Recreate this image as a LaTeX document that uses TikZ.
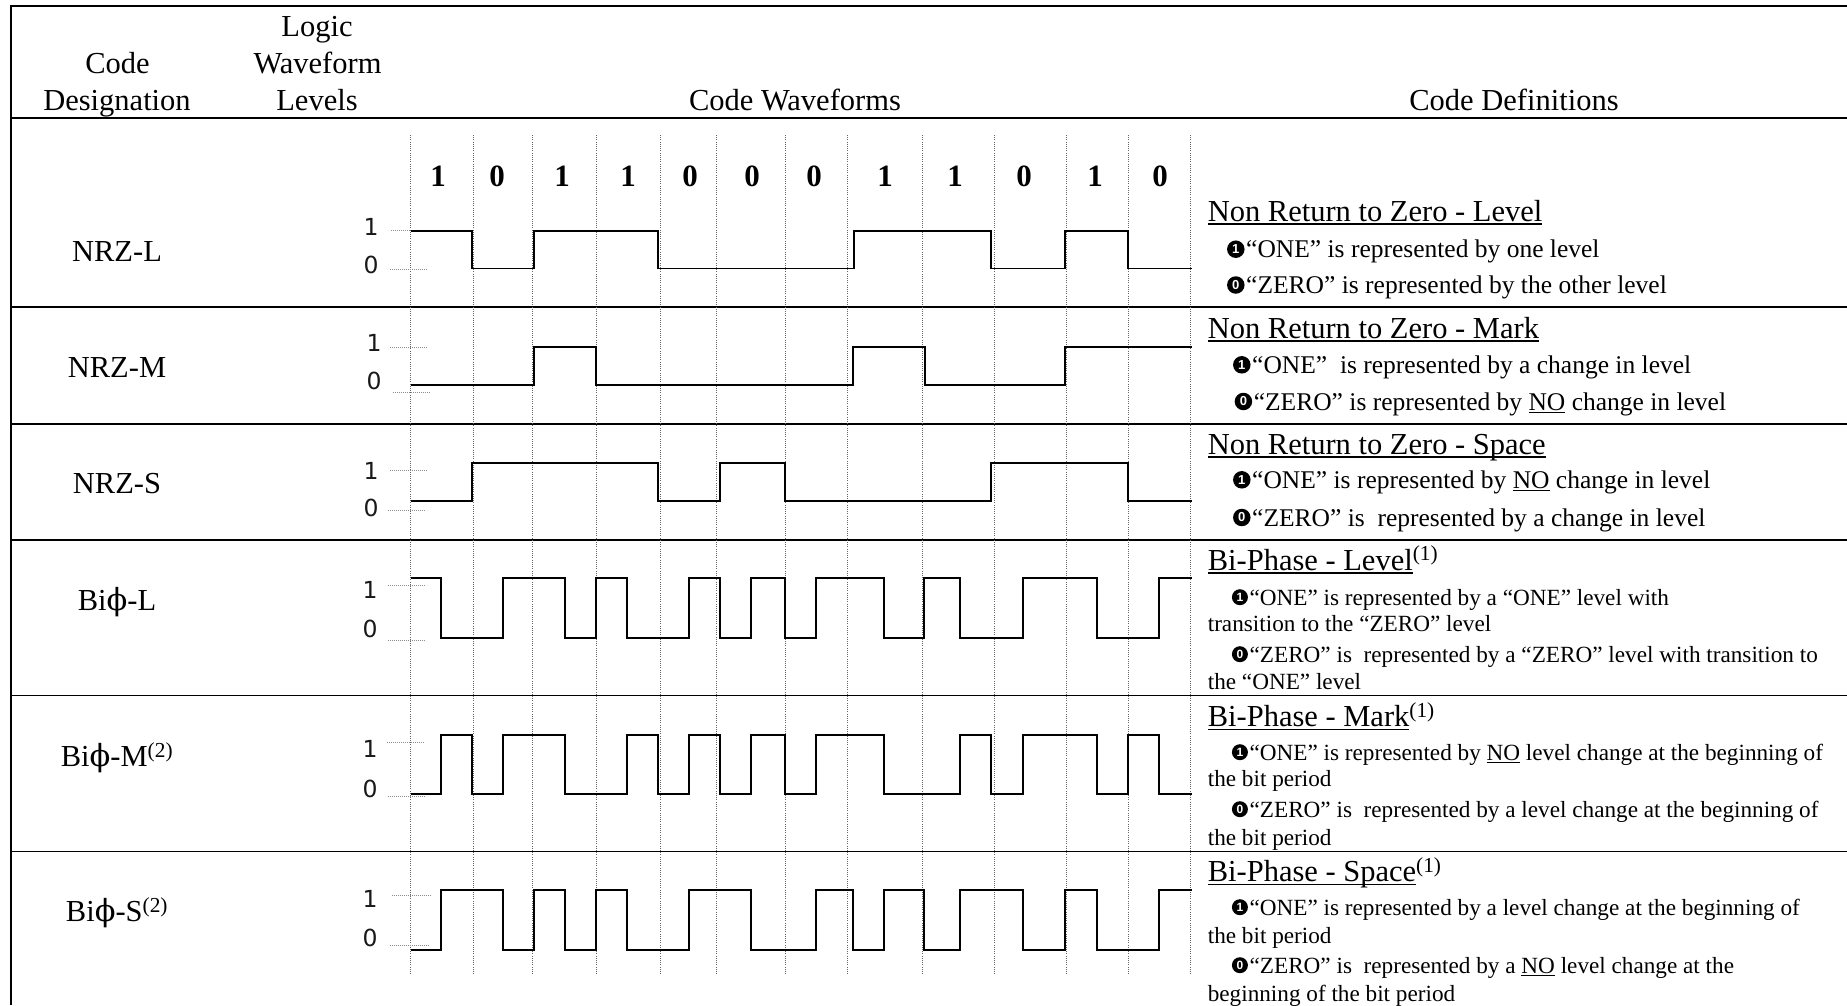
\documentclass[tikz,border=0pt]{standalone}
\usepackage{fontspec}
\setmainfont{Liberation Serif}
\newfontfamily\levfont{DejaVu Sans}
\newfontfamily\bulfont{Liberation Sans}
\newfontfamily\phifont{DejaVu Serif}
\newsavebox\ulbox
\newcommand\ulx[1]{\sbox\ulbox{#1}\rlap{\rule[-0.12em]{\wd\ulbox}{0.05em}}\usebox\ulbox}
\newcommand\ph{{\phifont ϕ}}
\begin{document}
\begin{tikzpicture}[x=1pt,y=-1pt,
  frame/.style={line width=1.7pt},
  wave/.style={line width=1.6pt, line join=miter},
  gridln/.style={line width=0.7pt, black!60, dash pattern=on 1pt off 1.2pt},
  tickln/.style={line width=0.6pt, black!45, dash pattern=on 1pt off 1pt},
  hdr/.style={anchor=base, inner sep=0pt, font=\fontsize{30.5}{36}\selectfont},
  bit/.style={anchor=base, inner sep=0pt, font=\fontsize{31}{36}\selectfont\bfseries},
  lev/.style={anchor=base, inner sep=0pt, text=black!90, font=\levfont\fontsize{23.5}{26}\selectfont},
  ttl/.style={anchor=base west, inner sep=0pt, font=\fontsize{30.5}{36}\selectfont},
  dnrz/.style={anchor=base west, inner sep=0pt, font=\fontsize{25.5}{30}\selectfont},
  dbi/.style={anchor=base west, inner sep=0pt, font=\fontsize{23.2}{28}\selectfont},
  bulA/.style={circle, fill=black, inner sep=0pt, minimum size=17.5pt, text=white, font=\bulfont\bfseries\fontsize{13}{13}\selectfont},
  bulB/.style={circle, fill=black, inner sep=0pt, minimum size=16pt, text=white, font=\bulfont\bfseries\fontsize{12}{12}\selectfont},
]
\useasboundingbox (0,0) rectangle (1847,1005);

% table frame
\draw[frame, line join=miter] (1847,6) -- (11,6) -- (11,1005);
\foreach \yy in {117.7,307.3,424,539.7,695.5,851.5}
  \draw[frame] (11,\yy) -- (1847,\yy);

% header
\node[hdr] (hlogic) at (317,36.7) {Logic};
\node[hdr] (hwave) at (317.5,73.3) {Waveform};
\node[hdr] (hlev) at (317,110) {Levels};
\node[hdr] (hcode) at (117.5,73.3) {Code};
\node[hdr] (hdes) at (117,110) {Designation};
\node[hdr] (hcw) at (795,110) {Code Waveforms};
\node[hdr] (hcd) at (1514,110) {Code Definitions};

% bit grid
\foreach \xx in {410.7,473.7,532.7,596.3,660.7,716.7,785.7,847.7,922.3,994.3,1066.3,1128.3,1190}
  \draw[gridln] (\xx,135) -- (\xx,975);

% bits
\foreach \b/\xx [count=\i] in {1/438,0/497,1/562,1/628,0/690,0/752,0/814,1/885,1/955,0/1024,1/1095,0/1160}
  \node[bit] (bit\i) at (\xx,186.7) {\b};

% code designations
\node[hdr] (nrzl) at (117,261.7) {NRZ-L};
\node[hdr] (nrzm) at (117,377.3) {NRZ-M};
\node[hdr] (nrzs) at (117,493.3) {NRZ-S};
\node[hdr] (bipl) at (117,610) {Bi\ph-L};
\node[hdr] (bipm) at (117,766.7) {Bi\ph-M\textsuperscript{(2)}};
\node[hdr] (bips) at (117,921.7) {Bi\ph-S\textsuperscript{(2)}};

% level labels
\node[lev] (l1a) at (371,235.5) {1};
\node[lev] (l0a) at (371,273.5) {0};
\node[lev] (l1b) at (374,351.3) {1};
\node[lev] (l0b) at (374,389.5) {0};
\node[lev] (l1c) at (371,479.5) {1};
\node[lev] (l0c) at (371,516.5) {0};
\node[lev] (l1d) at (370,598.5) {1};
\node[lev] (l0d) at (370,637.8) {0};
\node[lev] (l1e) at (370,757.8) {1};
\node[lev] (l0e) at (370,797.8) {0};
\node[lev] (l1f) at (370,907.2) {1};
\node[lev] (l0f) at (370,946.5) {0};

% level ticks
\draw[tickln] (391,230) -- (429,230);   \draw[tickln] (390,269.3) -- (428,269.3);
\draw[tickln] (390,347.7) -- (428,347.7); \draw[tickln] (393,392.3) -- (430.7,392.3);
\draw[tickln] (390,470) -- (428,470);   \draw[tickln] (388,510) -- (426,510);
\draw[tickln] (388,585) -- (426,585);   \draw[tickln] (388,640.7) -- (426,640.7);
\draw[tickln] (387,742.7) -- (425,742.7); \draw[tickln] (388,796) -- (426,796);
\draw[tickln] (392,895.7) -- (431,895.7); \draw[tickln] (389.5,945.7) -- (428,945.7);

% waveforms
% NRZ-L
\draw[wave] (410.7,230.7) -| (472,268.3) -| (534,230.7) -| (658,268.3) -| (854,230.7) -| (991,268.3) -| (1065,230.7) -| (1128,268.3) -- (1192,268.3);
% NRZ-M
\draw[wave] (410.7,384.7) -| (534,347) -| (596,384.7) -| (853,347) -| (925,384.7) -| (1065,347) -- (1192,347);
% NRZ-S
\draw[wave] (410.7,501) -| (472,463) -| (658,501) -| (720,463) -| (785,501) -| (991,463) -| (1128,501) -- (1192,501);
% Bi-phase L
\draw[wave] (410.7,578) -| (441,638) -| (503,578) -| (565,638) -| (596,578) -| (627,638) -| (689,578) -| (720,638) -| (751,578) -| (785,638) -| (816,578) -| (884,638) -| (924,578) -| (960,638) -| (1023,578) -| (1097,638) -| (1159,578) -- (1192,578);
% Bi-phase M
\draw[wave] (410.7,794) -| (441,735) -| (472,794) -| (503,735) -| (565,794) -| (627,735) -| (658,794) -| (689,735) -| (720,794) -| (751,735) -| (785,794) -| (816,735) -| (884,794) -| (960,735) -| (991,794) -| (1023,735) -| (1097,794) -| (1128,735) -| (1159,794) -- (1192,794);
% Bi-phase S
\draw[wave] (410.7,950) -| (441,890) -| (503,950) -| (534,890) -| (565,950) -| (596,890) -| (627,950) -| (689,890) -| (751,950) -| (816,890) -| (853,950) -| (884,890) -| (924,950) -| (960,890) -| (1023,950) -| (1065,890) -| (1097,950) -| (1159,890) -- (1192,890);

% definitions: NRZ-L
\node[ttl] (dlt) at (1207.6,221) {\ulx{Non Return to Zero - Level}};
\node[bulA] (dl1b) at (1235.8,249.2) {1};
\node[dnrz] (dl1) at (1246,257.7) {“ONE” is represented by one level};
\node[bulA] (dl0b) at (1235.8,285) {0};
\node[dnrz] (dl0) at (1246,293.5) {“ZERO” is represented by the other level};

% NRZ-M
\node[ttl] (dmt) at (1207.6,338.3) {\ulx{Non Return to Zero - Mark}};
\node[bulA] (dm1b) at (1241.8,364.8) {1};
\node[dnrz] (dm1) at (1252,373.3) {“ONE”\ \ is represented by a change in level};
\node[bulA] (dm0b) at (1243.4,401.5) {0};
\node[dnrz] (dm0) at (1253.6,410) {“ZERO” is represented by \ulx{NO} change in level};

% NRZ-S
\node[ttl] (dst) at (1207.6,454) {\ulx{Non Return to Zero - Space}};
\node[bulA] (ds1b) at (1241.8,479.8) {1};
\node[dnrz] (ds1) at (1252,488.3) {“ONE” is represented by \ulx{NO} change in level};
\node[bulA] (ds0b) at (1241.8,517.5) {0};
\node[dnrz] (ds0) at (1252,526) {“ZERO” is\ \ represented by a change in level};

% Bi-Phase Level
\node[ttl] (blt) at (1207.6,570) {\ulx{Bi-Phase - Level}\textsuperscript{(1)}};
\node[bulB] (bl1b) at (1239.9,597.2) {1};
\node[dbi] (bl1) at (1249.4,605) {“ONE” is represented by a “ONE” level with};
\node[dbi] (bl1c) at (1207.6,631) {transition to the “ZERO” level};
\node[bulB] (bl0b) at (1239.9,654.2) {0};
\node[dbi] (bl0) at (1249.4,662) {“ZERO” is\ \ represented by a “ZERO” level with transition to};
\node[dbi] (bl0c) at (1207.6,689) {the “ONE” level};

% Bi-Phase Mark
\node[ttl] (bmt) at (1207.6,726.7) {\ulx{Bi-Phase - Mark}\textsuperscript{(1)}};
\node[bulB] (bm1b) at (1239.9,752.2) {1};
\node[dbi] (bm1) at (1249.4,760) {“ONE” is represented by \ulx{NO} level change at the beginning of};
\node[dbi] (bm1c) at (1207.6,786.7) {the bit period};
\node[bulB] (bm0b) at (1239.9,809.2) {0};
\node[dbi] (bm0) at (1249.4,817) {“ZERO” is\ \ represented by a level change at the beginning of};
\node[dbi] (bm0c) at (1207.6,845) {the bit period};

% Bi-Phase Space
\node[ttl] (bst) at (1207.6,881.7) {\ulx{Bi-Phase - Space}\textsuperscript{(1)}};
\node[bulB] (bs1b) at (1239.9,907.2) {1};
\node[dbi] (bs1) at (1249.4,915) {“ONE” is represented by a level change at the beginning of};
\node[dbi] (bs1c) at (1207.6,943) {the bit period};
\node[bulB] (bs0b) at (1239.9,965.2) {0};
\node[dbi] (bs0) at (1249.4,973) {“ZERO” is\ \ represented by a \ulx{NO} level change at the};
\node[dbi] (bs0c) at (1207.6,1001.7) {beginning of the bit period};
\end{tikzpicture}
\end{document}
